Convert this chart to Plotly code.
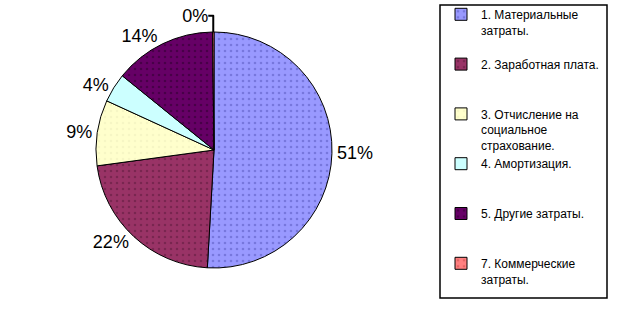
import plotly.graph_objects as go

labels = [
    "1. Материальные<br>затраты.<br> ",
    "2. Заработная плата.<br> <br> ",
    "3. Отчисление на<br>социальное<br>страхование.",
    "4. Амортизация.<br> <br> ",
    "5. Другие затраты.<br> <br> ",
    "7. Коммерческие<br>затраты.",
]
values = [51.0, 22.0, 9.0, 4.0, 14.0, 0.2]
colors = ["#9999FF", "#993366", "#FFFFCC", "#CCFFFF", "#660066", "#FF8080"]
dot_colors = ["#5555BB", "#5A1A3A", "#EEEEBB", "#CCFFFF", "#2A002A", "#CC4444"]

W, H = 617, 313
cx, cy, r = 214, 150, 118

fig = go.Figure(go.Pie(
    labels=labels,
    values=values,
    sort=False,
    direction="clockwise",
    rotation=0,
    marker=dict(
        colors=colors,
        line=dict(color="black", width=1),
        pattern=dict(shape=".", size=6, solidity=0.15, fgcolor=dot_colors, fillmode="overlay"),
    ),
    textposition="outside",
    texttemplate="%{percent:.0%}",
    textfont=dict(family="Arial, Liberation Sans", size=18, color="black"),
    domain=dict(x=[(cx - r) / W, (cx + r) / W], y=[(H - cy - r) / H, (H - cy + r) / H]),
    showlegend=True,
    hoverinfo="label+percent",
))

fig.add_shape(type="rect", xref="paper", yref="paper",
              x0=440 / W, x1=607 / W, y0=1 - 298 / H, y1=1 - 5 / H,
              line=dict(color="black", width=1.5), fillcolor="rgba(0,0,0,0)")

fig.update_layout(
    width=W, height=H,
    margin=dict(l=0, r=0, t=0, b=0),
    paper_bgcolor="white",
    plot_bgcolor="white",
    font=dict(family="Arial, Liberation Sans", color="black"),
    legend=dict(
        x=441 / W, xanchor="left",
        y=1, yanchor="top",
        font=dict(family="Arial, Liberation Sans", size=12, color="black"),
        valign="top",
        bgcolor="rgba(0,0,0,0)",
        borderwidth=0,
        traceorder="normal",
    ),
)

fig.write_html("out.html")
